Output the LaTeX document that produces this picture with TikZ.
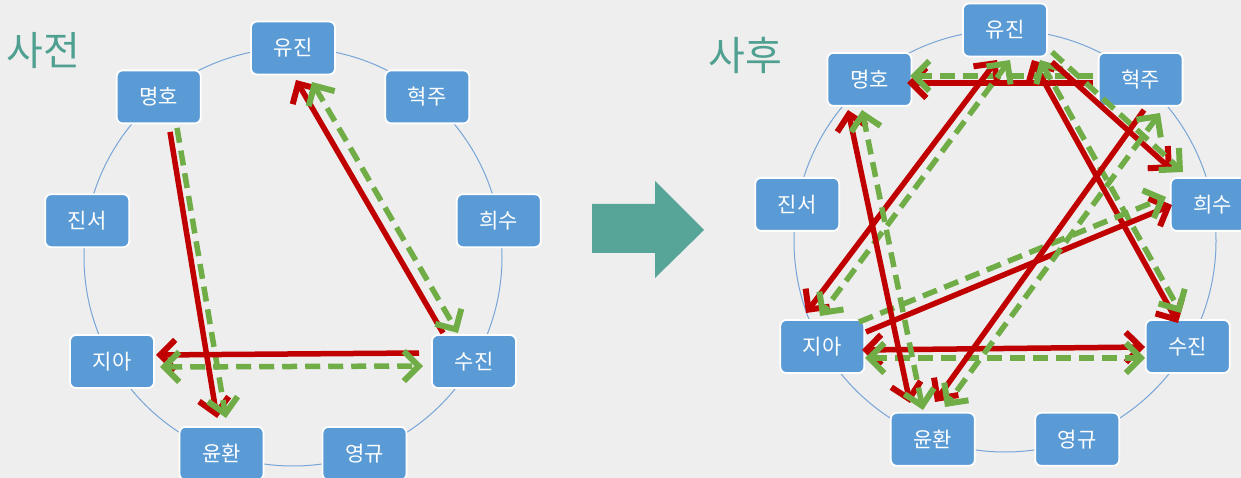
\documentclass[tikz,border=0pt]{standalone}
\usepackage{fontspec}
\setmainfont{Noto Sans CJK KR}
\usetikzlibrary{arrows.meta,calc}
\definecolor{bgc}{RGB}{238,238,238}
\definecolor{boxc}{RGB}{91,155,213}
\definecolor{ringc}{RGB}{120,165,215}
\definecolor{redc}{RGB}{192,0,0}
\definecolor{grnc}{RGB}{112,173,71}
\definecolor{titlec}{RGB}{79,160,145}
\definecolor{bigarrowc}{RGB}{86,165,152}
\begin{document}
\begin{tikzpicture}[x=1pt,y=-1pt,
  person/.style={draw=white, line width=1.8pt, fill=boxc, rounded corners=6pt,
    minimum width=84pt, minimum height=53pt, text=white,
    font=\fontsize{21}{21}\selectfont, inner sep=0pt},
  redarrow/.style={draw=redc, line width=5.5pt},
  grnarrow/.style={draw=grnc, line width=5.5pt, dash pattern=on 15pt off 8pt},
  >={Straight Barb[length=15pt,width=30pt,line width=6pt]},
  ring/.style={draw=ringc, line width=1pt},
  title/.style={text=titlec, font=\fontsize{40}{40}\selectfont, inner sep=0pt}
]
\fill[bgc] (0,0) rectangle (1241,478);
\useasboundingbox (0,0) rectangle (1241,478);

% titles
\node[title] (t1) at (43,51) {사전};
\node[title] (t2) at (745,55) {사후};

% big arrow
\fill[bigarrowc] (592,204) -- (655,204) -- (655,181) -- (704,230) -- (655,278) -- (655,253) -- (592,253) -- cycle;

% rings
\draw[ring] (293,257) circle[radius=209pt];
\draw[ring] (1005,241) circle[radius=211pt];

% left nodes
\node[person] (Ly)  at (293,48)      {유진};
\node[person] (Lh)  at (427.3,96.9)  {혁주};
\node[person] (Lhs) at (498.8,220.7) {희수};
\node[person] (Lsj) at (474,361.5)   {수진};
\node[person] (Lyg) at (364.5,453.4) {영규};
\node[person] (Lyh) at (221.5,453.4) {윤환};
\node[person] (Lj)  at (112,361.5)   {지아};
\node[person] (Ljs) at (87.2,220.7)  {진서};
\node[person] (Lm)  at (158.7,96.9)  {명호};

% right nodes
\node[person] (Ry)  at (1005,30)      {유진};
\node[person] (Rh)  at (1140.6,79.4)  {혁주};
\node[person] (Rhs) at (1212.8,204.4) {희수};
\node[person] (Rsj) at (1187.7,346.5) {수진};
\node[person] (Ryg) at (1077.2,439.3) {영규};
\node[person] (Ryh) at (932.8,439.3)  {윤환};
\node[person] (Rj)  at (822.3,346.5)  {지아};
\node[person] (Rjs) at (797.2,204.4)  {진서};
\node[person] (Rm)  at (869.4,79.4)   {명호};

% left connectors
\draw[redarrow,->] ($(Lm)+(11.3,35)$) -- ($(Lyh)+(-4.5,-35.4)$);
\draw[grnarrow,->] ($(Lm)+(18.3,31)$) -- ($(Lyh)+(4.5,-35.4)$);
\draw[redarrow,->] ($(Lsj)+(-31,-28.5)$) -- ($(Ly)+(3,32)$);
\draw[grnarrow,<->] ($(Ly)+(19,34)$) -- ($(Lsj)+(-16,-28.5)$);
\draw[redarrow,->] ($(Lsj)+(-55,-8.5)$) -- ($(Lj)+(44,-6.5)$);
\draw[grnarrow,<->] ($(Lj)+(48,5.5)$) -- ($(Lsj)+(-51,4.5)$);

% right connectors
\draw[redarrow,->] ($(Rh)+(-47.6,3.6)$) -- ($(Rm)+(37.6,3.6)$);
\draw[grnarrow,->] ($(Rh)+(-47.6,-3.4)$) -- ($(Rm)+(40.6,-3.4)$);
\draw[redarrow,<->] ($(Ry)+(-8,30)$) -- ($(Rj)+(-16.3,-33.5)$);
\draw[grnarrow,<->] ($(Ry)+(5,30)$) -- ($(Rj)+(-2.3,-30.5)$);
\draw[redarrow,<->] ($(Ry)+(27,30)$) -- ($(Rsj)+(-9.7,-23.5)$);
\draw[grnarrow,<->] ($(Ry)+(35,30)$) -- ($(Rsj)+(-6.7,-33.5)$);
\draw[redarrow,->] ($(Ry)+(47,32)$) -- ($(Rhs)+(-40.8,-34.4)$);
\draw[grnarrow,->] ($(Ry)+(47,22)$) -- ($(Rhs)+(-29.8,-32.4)$);
\draw[redarrow,->] ($(Rj)+(43.7,-14.5)$) -- ($(Rhs)+(-40.8,0.6)$);
\draw[grnarrow,->] ($(Rj)+(36.7,-24.5)$) -- ($(Rhs)+(-46.8,-7.4)$);
\draw[redarrow,<->] ($(Rj)+(39.7,3.5)$) -- ($(Rsj)+(-42.7,0.5)$);
\draw[grnarrow,<->] ($(Rj)+(42.7,11.5)$) -- ($(Rsj)+(-42.7,11.5)$);
\draw[redarrow,->] ($(Rh)+(3.4,30.6)$) -- ($(Ryh)+(2.2,-37.3)$);
\draw[grnarrow,<->] ($(Rh)+(19.4,33.6)$) -- ($(Ryh)+(12.2,-32.3)$);
\draw[redarrow,<->] ($(Rm)+(-21.4,30.6)$) -- ($(Ryh)+(-22.8,-36.3)$);
\draw[grnarrow,<->] ($(Rm)+(-7.4,30.6)$) -- ($(Ryh)+(-9.8,-29.3)$);
\end{tikzpicture}
\end{document}
